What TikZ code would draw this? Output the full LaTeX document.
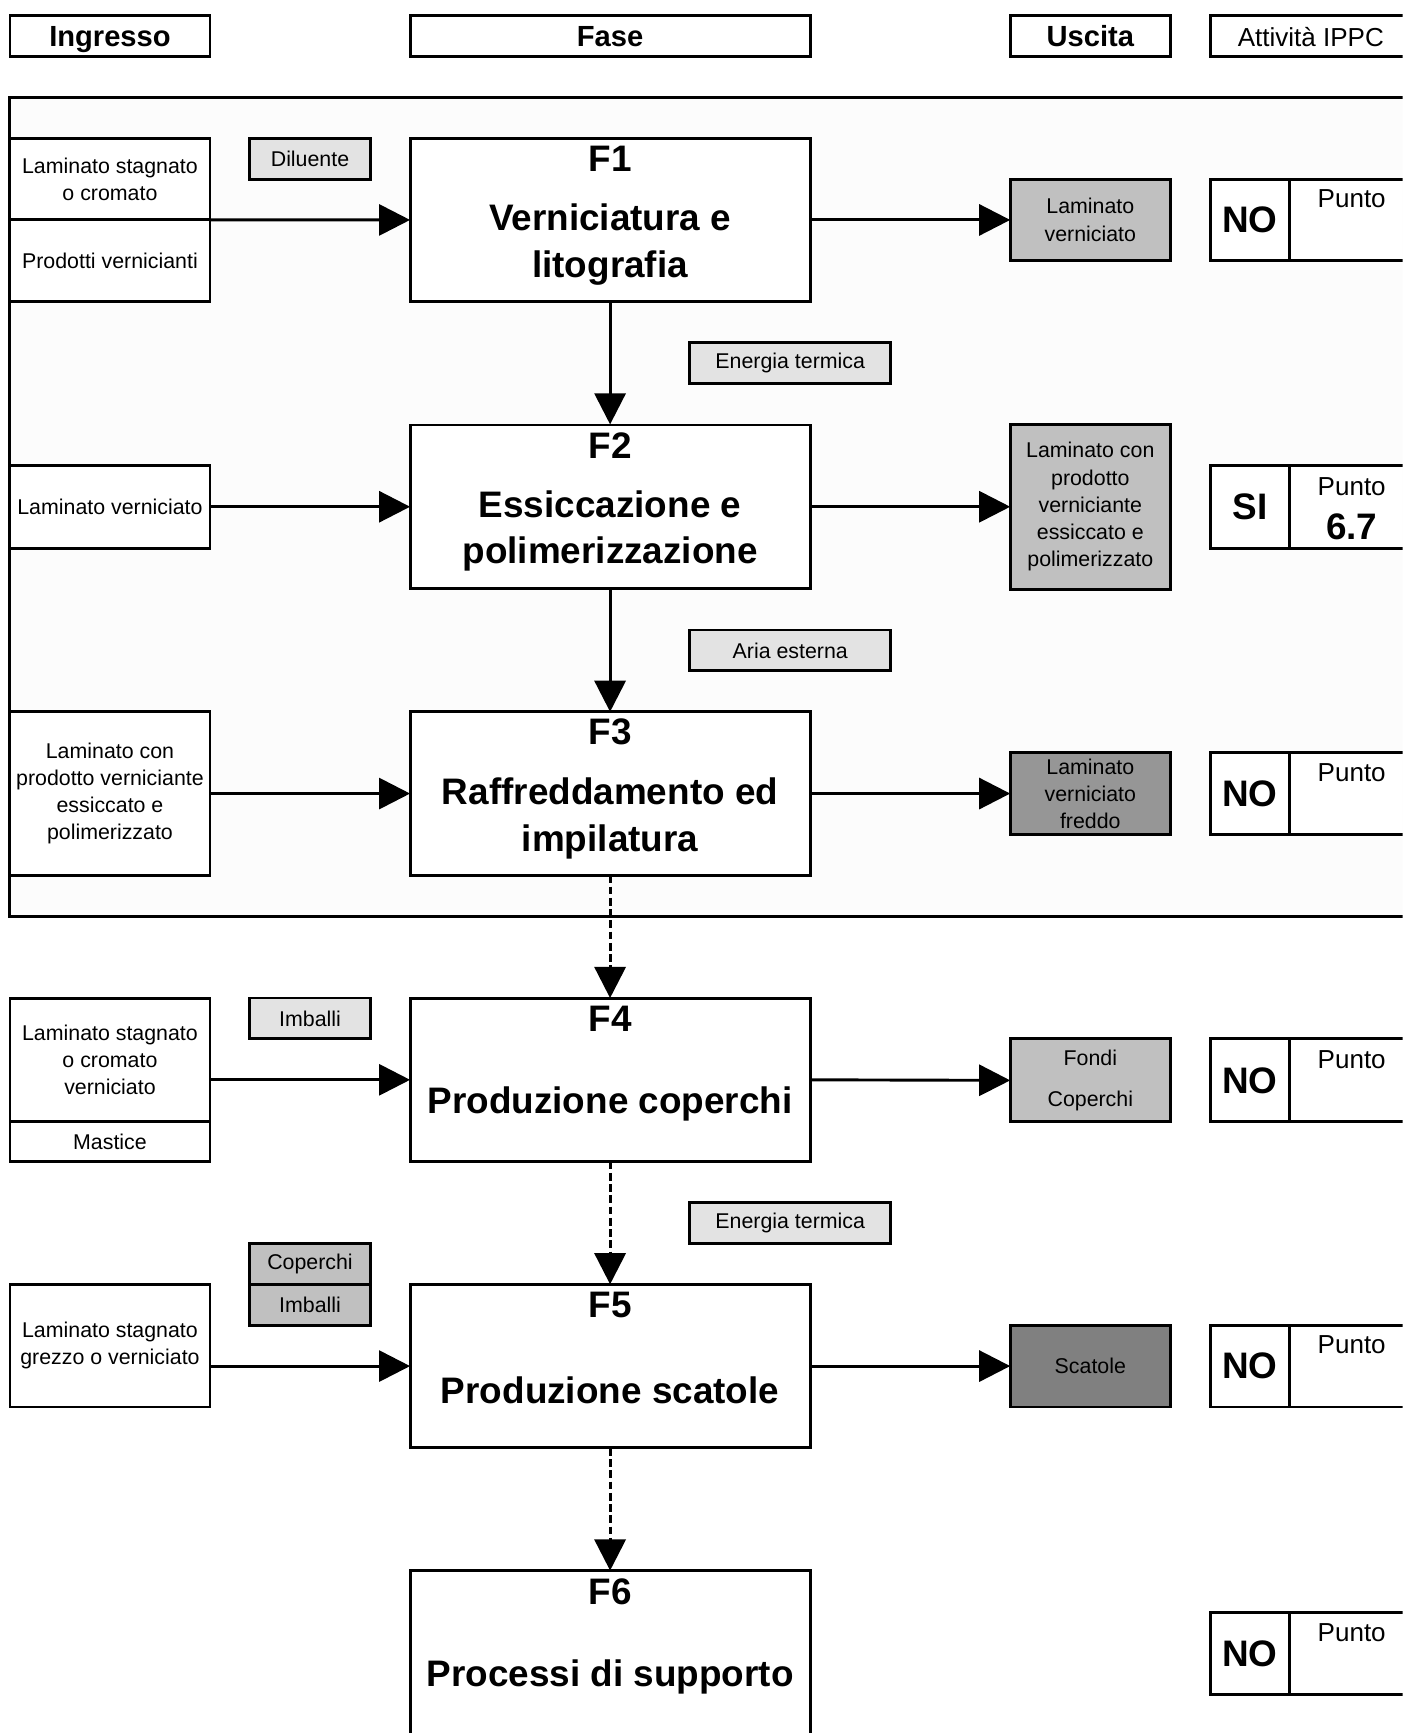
\documentclass[tikz,border=0pt]{standalone}
\usepackage{fontspec}
\setmainfont{Liberation Sans}
\usetikzlibrary{arrows.meta}

\definecolor{auxgray}{HTML}{E3E3E3}
\definecolor{outgray}{HTML}{C0C0C0}
\definecolor{coldgray}{HTML}{969696}
\definecolor{boxgray}{HTML}{808080}

\tikzset{
  box/.style={draw, line width=1.5pt, fill=white, inner sep=0pt, outer sep=0pt, align=center},
  smalltxt/.style={font=\fontsize{11}{14}\selectfont},
  hdr/.style={box, minimum height=0.74cm, text height=12.2pt, text depth=1.8pt, font=\bfseries\fontsize{15}{18}\selectfont},
  phase/.style={box, minimum width=7.24cm, minimum height=2.96cm},
  fnum/.style={font=\bfseries\fontsize{19}{24}\selectfont},
  ftitle/.style={align=center, font=\bfseries\fontsize{19}{24}\selectfont},
  inbox/.style={box, smalltxt, minimum width=3.62cm},
  auxbox/.style={box, smalltxt, fill=auxgray, minimum height=0.74cm},
  outbox/.style={box, smalltxt, minimum width=2.9cm},
  nobox/.style={box, minimum width=1.44cm, minimum height=1.48cm, font=\bfseries\fontsize{19}{24}\selectfont},
  ptbox/.style={box, minimum width=2.24cm, minimum height=1.48cm},
  punto/.style={font=\fontsize{13.4}{16}\selectfont},
  flow/.style={line width=1.5pt, -{Triangle[length=16pt,width=16pt]}},
  dflow/.style={flow, dash pattern=on 4pt off 1.8pt}
}

\begin{document}
\begin{tikzpicture}[x=0.02cm, y=-0.02cm]
  \useasboundingbox (0,0) rectangle (1269,1568);
  \clip (0,0) rectangle (1269,1568);

  % Headers
  \node[hdr, minimum width=3.62cm] (hIn) at (99.5,32.5) {Ingresso};
  \node[hdr, minimum width=7.24cm] (hFase) at (552,32.5) {Fase};
  \node[hdr, minimum width=2.9cm] (hOut) at (986.5,32.5) {Uscita};
  \node[hdr, minimum width=3.64cm, font=\fontsize{13.4}{16}\selectfont] (hIppc) at (1186,32.5) {Attività IPPC};

  % Frame round F1-F3
  \draw[line width=1.5pt, fill=black!1] (9,88) rectangle (1300,829);

  % F1
  \node[phase] (f1) at (552,199) {};
  \node[fnum] at (552,144) {F1};
  \node[ftitle] at (552,221.5) {Verniciatura e\\litografia};
  \node[inbox, minimum height=1.48cm] (in1a) at (99.5,162) {Laminato stagnato\\o cromato};
  \node[inbox, minimum height=1.48cm] (in1b) at (99.5,236) {Prodotti vernicianti};
  \node[auxbox, minimum width=2.18cm] (dil) at (280.5,143.5) {Diluente};
  \node[outbox, fill=outgray, minimum height=1.48cm] (out1) at (986.5,199) {Laminato\\verniciato};
  \node[nobox] (no1) at (1131,199) {NO};
  \node[ptbox] (pt1) at (1223,199) {};
  \node[punto] at (1223,180) {Punto};
  \draw[flow] (in1a.south east) -- (f1.west);
  \draw[flow] (f1.east) -- (out1.west);

  \node[auxbox, minimum width=3.64cm] (en1) at (715,328.5) {Energia termica};
  \draw[flow] (f1.south) -- (552,384);

  % F2
  \node[phase] (f2) at (552,458.5) {};
  \node[fnum] at (552,403) {F2};
  \node[ftitle] at (552,480.5) {Essiccazione e\\polimerizzazione};
  \node[inbox, minimum height=1.5cm] (in2) at (99.5,458.5) {Laminato verniciato};
  \node[outbox, fill=outgray, minimum height=2.98cm] (out2) at (986.5,458.5) {Laminato con\\prodotto\\verniciante\\essiccato e\\polimerizzato};
  \node[nobox, minimum height=1.5cm] (no2) at (1131,458.5) {SI};
  \node[ptbox, minimum height=1.5cm] (pt2) at (1223,458.5) {};
  \node[punto] at (1223,440) {Punto};
  \node[fnum] at (1223,477) {6.7};
  \draw[flow] (in2.east) -- (f2.west);
  \draw[flow] (f2.east) -- (out2.west);

  \node[auxbox, minimum width=3.64cm] (aria) at (715,588.5) {Aria esterna};
  \draw[flow] (f2.south) -- (552,644);

  % F3
  \node[phase] (f3) at (552,718) {};
  \node[fnum] at (552,662.5) {F3};
  \node[ftitle] at (552,740.5) {Raffreddamento ed\\impilatura};
  \node[inbox, minimum height=2.96cm] (in3) at (99.5,718) {Laminato con\\prodotto verniciante\\essiccato e\\polimerizzato};
  \node[outbox, fill=coldgray, minimum height=1.48cm] (out3) at (986.5,718) {Laminato\\verniciato\\freddo};
  \node[nobox] (no3) at (1131,718) {NO};
  \node[ptbox] (pt3) at (1223,718) {};
  \node[punto] at (1223,699) {Punto};
  \draw[flow] (in3.east) -- (f3.west);
  \draw[flow] (f3.east) -- (out3.west);

  \draw[dflow] (f3.south) -- (552,903);

  % F4
  \node[phase] (f4) at (552,977) {};
  \node[fnum] at (552,921.5) {F4};
  \node[ftitle] at (552,998.5) {Produzione coperchi};
  \node[inbox, minimum height=2.24cm] (in4a) at (99.5,959) {Laminato stagnato\\o cromato\\verniciato};
  \node[inbox, minimum height=0.72cm] (in4b) at (99.5,1033) {Mastice};
  \node[auxbox, minimum width=2.18cm] (imb4) at (280.5,921.5) {Imballi};
  \node[outbox, fill=outgray, minimum height=1.5cm] (out4) at (986.5,977.5) {Fondi\\[7pt]Coperchi};
  \node[nobox, minimum height=1.5cm] (no4) at (1131,977.5) {NO};
  \node[ptbox, minimum height=1.5cm] (pt4) at (1223,977.5) {};
  \node[punto] at (1223,958.5) {Punto};
  \draw[flow] (f4.west -| in4a.east) -- (f4.west);
  \draw[flow] (f4.east) -- (out4.west);

  \node[auxbox, minimum width=3.64cm] (en4) at (715,1106.5) {Energia termica};
  \draw[dflow] (f4.south) -- (552,1162);

  % F5
  \node[phase] (f5) at (552,1236) {};
  \node[fnum] at (552,1181) {F5};
  \node[ftitle] at (552,1257.5) {Produzione scatole};
  \node[inbox, minimum height=2.22cm] (in5) at (99.5,1217.5) {Laminato stagnato\\grezzo o verniciato};
  \node[auxbox, fill=outgray, minimum width=2.18cm] (cop5) at (280.5,1143.5) {Coperchi};
  \node[auxbox, fill=outgray, minimum width=2.18cm] (imb5) at (280.5,1180.5) {Imballi};
  \node[outbox, fill=boxgray, minimum height=1.48cm] (out5) at (986.5,1236) {Scatole};
  \node[nobox] (no5) at (1131,1236) {NO};
  \node[ptbox] (pt5) at (1223,1236) {};
  \node[punto] at (1223,1217) {Punto};
  \draw[flow] (f5.west -| in5.east) -- (f5.west);
  \draw[flow] (f5.east) -- (out5.west);

  \draw[dflow] (f5.south) -- (552,1421);

  % F6
  \node[phase] (f6) at (552,1495) {};
  \node[fnum] at (552,1440.5) {F6};
  \node[ftitle] at (552,1517.5) {Processi di supporto};
  \node[nobox] (no6) at (1131,1496) {NO};
  \node[ptbox] (pt6) at (1223,1496) {};
  \node[punto] at (1223,1477) {Punto};

\end{tikzpicture}
\end{document}
